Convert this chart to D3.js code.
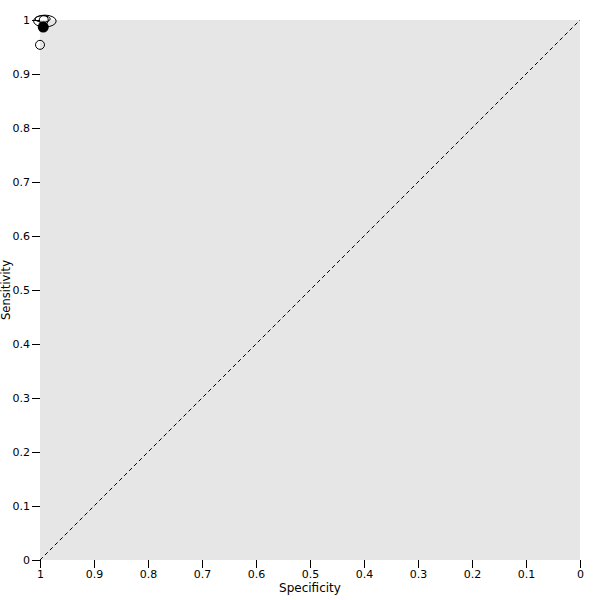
<!DOCTYPE html>
<html><head><meta charset="utf-8">
<script src="https://cdn.jsdelivr.net/npm/d3@7"></script>
<style>body{margin:0;background:#fff}</style>
</head><body>
<div id="chart"></div>
<script>
const ticks = [0,0.1,0.2,0.3,0.4,0.5,0.6,0.7,0.8,0.9,1];
const tickLabels = ["0","0.1","0.2","0.3","0.4","0.5","0.6","0.7","0.8","0.9","1"];
// study points (specificity, sensitivity)
const studySpec = [1.0, 0.993];
const studySens = [0.954, 1.0];
// summary point
const summarySpec = [0.994];
const summarySens = [0.987];
// regions: centre spec, centre sens, half-width (spec), half-height (sens)
const ellSpec = [0.991, 0.995];
const ellSens = [0.998, 1.002];
const ellRx = [0.021, 0.014];
const ellRy = [0.011, 0.006];

const W=600,H=600, L=40,R=580,T=20,B=560;
const svg=d3.select("#chart").append("svg").attr("width",W).attr("height",H);
const x=d3.scaleLinear().domain([1,0]).range([L,R]);
const y=d3.scaleLinear().domain([0,1]).range([B,T]);
svg.append("rect").attr("x",L).attr("y",T).attr("width",R-L).attr("height",B-T).attr("fill","#e6e6e6");

const font="DejaVu Sans";
const xa=svg.append("g").attr("transform",`translate(0,${B})`)
  .call(d3.axisBottom(x).tickValues(ticks).tickFormat((d,i)=>tickLabels[i]).tickSize(8).tickSizeOuter(0));
const ya=svg.append("g").attr("transform",`translate(${L},0)`)
  .call(d3.axisLeft(y).tickValues(ticks).tickFormat((d,i)=>tickLabels[i]).tickSize(8).tickSizeOuter(0));
[xa,ya].forEach(a=>{a.select(".domain").remove();a.selectAll("text").attr("font-family",font).attr("font-size",11).attr("fill","#000");a.selectAll("line").attr("stroke","#000");});
xa.selectAll("text").attr("dy","0").attr("y",18);
ya.selectAll("text").attr("x",-10);

svg.append("text").attr("x",(L+R)/2).attr("y",592).attr("text-anchor","middle").attr("font-family",font).attr("font-size",12).text("Specificity");
svg.append("text").attr("transform",`translate(10,${(T+B)/2}) rotate(-90)`).attr("text-anchor","middle").attr("font-family",font).attr("font-size",11.5).text("Sensitivity");

svg.append("line").attr("x1",x(1)).attr("y1",y(0)).attr("x2",x(0)).attr("y2",y(1)).attr("stroke","#000").attr("stroke-dasharray","4,3").attr("stroke-width",1);

ellSpec.forEach((s,i)=>{
  svg.append("ellipse").attr("cx",x(s)).attr("cy",y(ellSens[i]))
    .attr("rx",Math.abs(x(0)-x(ellRx[i]))).attr("ry",Math.abs(y(0)-y(ellRy[i])))
    .attr("fill","none").attr("stroke","#000").attr("stroke-width",1);
});
studySpec.forEach((s,i)=>{
  svg.append("circle").attr("cx",x(s)).attr("cy",y(studySens[i])).attr("r",4.5).attr("fill","none").attr("stroke","#000");
});
summarySpec.forEach((s,i)=>{
  svg.append("circle").attr("cx",x(s)).attr("cy",y(summarySens[i])).attr("r",5.5).attr("fill","#000");
});
</script>
</body></html>
